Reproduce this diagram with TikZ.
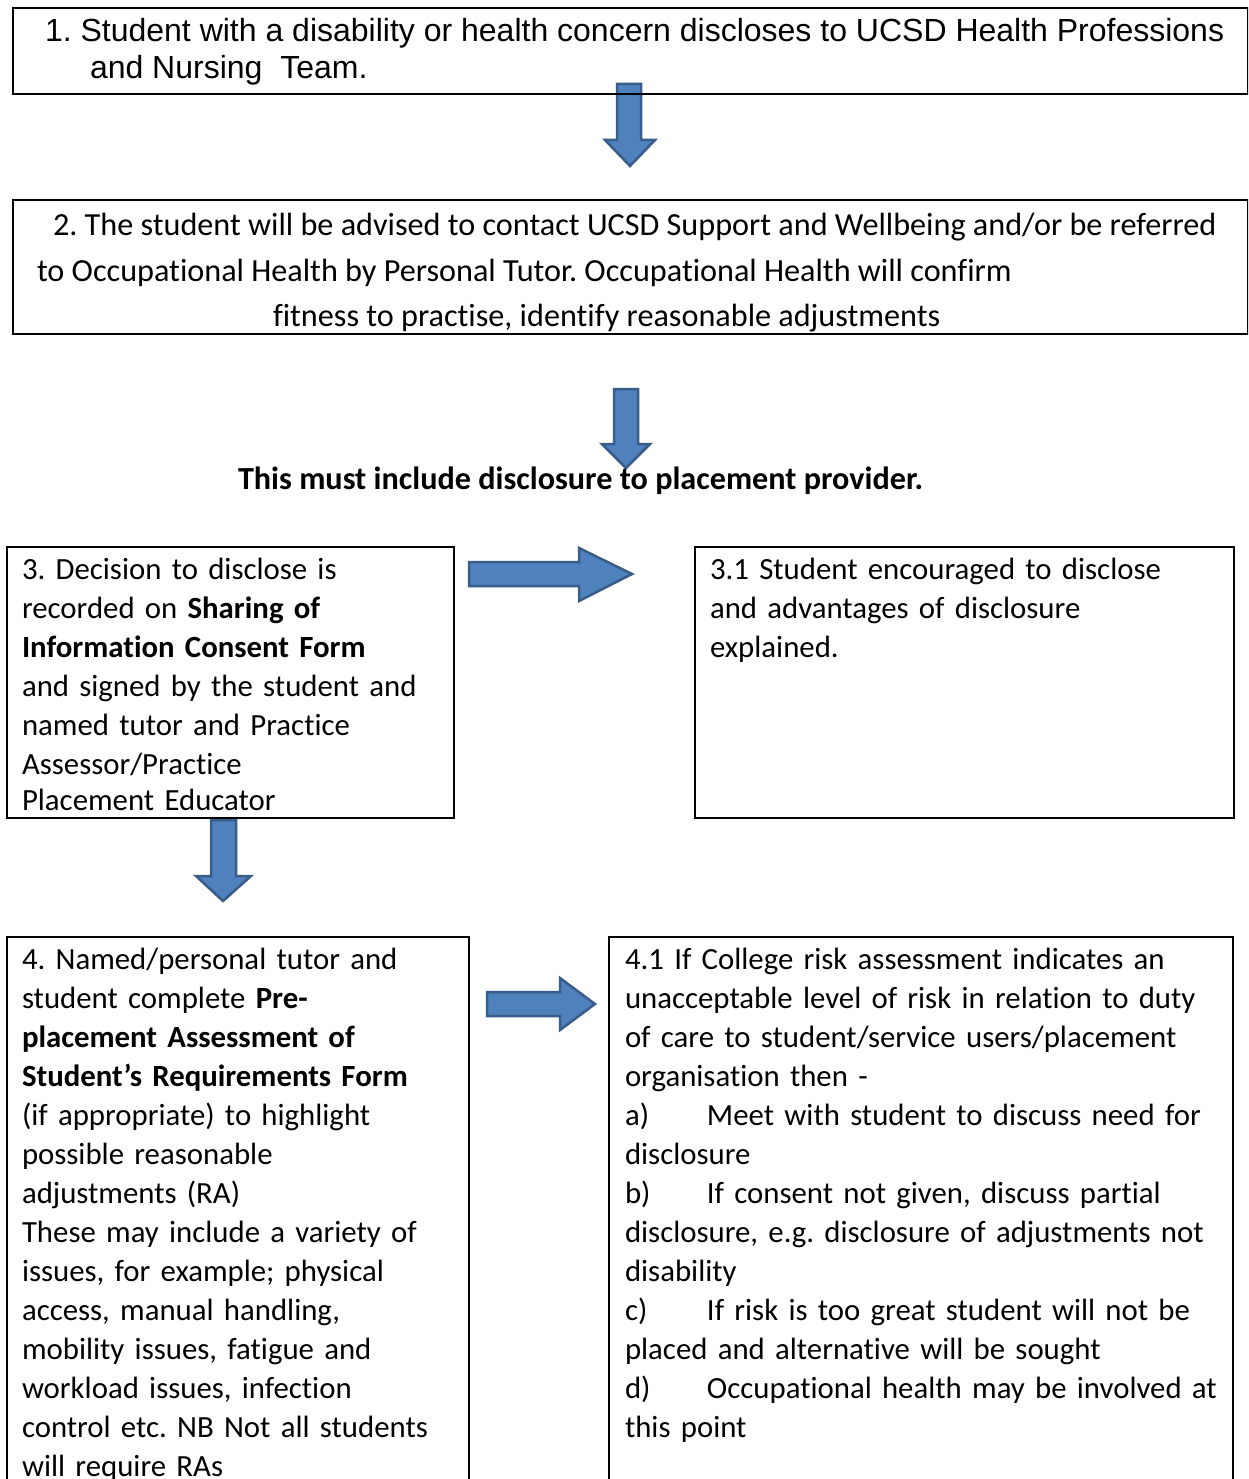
\documentclass[tikz,border=0pt]{standalone}
\usepackage{fontspec}
\setmainfont{Carlito}[Ligatures=CommonOff, RawFeature=-liga, RawFeature=-calt]
\newfontfamily\arialf{Liberation Sans}
\definecolor{arrowfill}{HTML}{4F81BD}
\definecolor{arrowline}{HTML}{385D8A}
\newcommand{\tabit}[1]{\makebox[82pt][l]{#1}}
\frenchspacing
\begin{document}
\begin{tikzpicture}[x=1pt,y=-1pt,
  box/.style={draw=black, line width=1.3pt, inner sep=0pt, outer sep=0pt, anchor=north west},
  txt/.style={anchor=base west, inner sep=0pt, outer sep=0pt, font=\fontsize{32.2}{39}\selectfont},
  ptxt/.style={txt, text width=700pt, align=left, font=\fontsize{30.8}{39}\selectfont},
  blk/.style={fill=arrowfill, draw=arrowline, line width=2.5pt, line join=miter}]
\useasboundingbox (0,0) rectangle (1248,1479);
\clip (0,0) rectangle (1248,1479);
% block arrows
\draw[blk] (617,84) -- (641,84) -- (641,140) -- (655,140) -- (630,166) -- (605,140) -- (617,140) -- cycle;
\draw[blk] (614,389) -- (638,389) -- (638,444) -- (650,444) -- (626,468) -- (602,444) -- (614,444) -- cycle;
\draw[blk] (469,562) -- (579,562) -- (579,548) -- (632,574) -- (579,601) -- (579,586) -- (469,586) -- cycle;
\draw[blk] (211,820) -- (236,820) -- (236,876) -- (251,876) -- (223,901) -- (196,876) -- (211,876) -- cycle;
\draw[blk] (487,992) -- (560,992) -- (560,978) -- (595,1004) -- (560,1030) -- (560,1016) -- (487,1016) -- cycle;
% boxes
\node[box, minimum width=1235pt, minimum height=86pt] (b1) at (13,8) {};
\node[box, minimum width=1235pt, minimum height=134pt] (b2) at (13,200) {};
\node[box, minimum width=447pt, minimum height=271pt] (b3) at (7,547) {};
\node[box, minimum width=539pt, minimum height=271pt] (b31) at (695,547) {};
\node[box, minimum width=462pt, minimum height=600pt] (b4) at (7,937) {};
\node[box, minimum width=624pt, minimum height=600pt] (b41) at (609,937) {};
% texts
\node[txt, font=\arialf\fontsize{32}{37}\selectfont] (t1a) at (45,42) {1. Student with a disability or health concern discloses to UCSD Health Professions};
\node[txt, font=\arialf\fontsize{32}{37}\selectfont] (t1b) at (90,79) {and Nursing\ \ Team.};
\node[txt] (t2a) at (53,236) {2. The student will be advised to contact UCSD Support and Wellbeing and/or be referred};
\node[txt] (t2b) at (37,281) {to Occupational Health by Personal Tutor. Occupational Health will confirm};
\node[txt] (t2c) at (273,326) {fitness to practise, identify reasonable adjustments};
\node[txt] (tb) at (238,489) {\bfseries This must include disclosure to placement provider.};
\node[ptxt] (t3) at (22,579) {3. Decision to disclose is\\
recorded on \textbf{Sharing of}\\
\textbf{Information Consent Form}\\
and signed by the student and\\
named tutor and Practice\\
Assessor/Practice\\[-3pt]
Placement Educator};
\node[ptxt] (t31) at (710,579) {3.1 Student encouraged to disclose\\
and advantages of disclosure\\
explained.};
\node[ptxt] (t4) at (22,969) {4. Named/personal tutor and\\
student complete \textbf{Pre-}\\
\textbf{placement Assessment of}\\
\textbf{Student’s Requirements Form}\\
(if appropriate) to highlight\\
possible reasonable\\
adjustments (RA)\\
These may include a variety of\\
issues, for example; physical\\
access, manual handling,\\
mobility issues, fatigue and\\
workload issues, infection\\
control etc. NB Not all students\\
will require RAs};
\node[ptxt] (t41) at (625,969) {4.1 If College risk assessment indicates an\\
unacceptable level of risk in relation to duty\\
of care to student/service users/placement\\
organisation then -\\
\tabit{a)}Meet with student to discuss need for\\
disclosure\\
\tabit{b)}If consent not given, discuss partial\\
disclosure, e.g. disclosure of adjustments not\\
disability\\
\tabit{c)}If risk is too great student will not be\\
placed and alternative will be sought\\
\tabit{d)}Occupational health may be involved at\\
this point};
\end{tikzpicture}
\end{document}
